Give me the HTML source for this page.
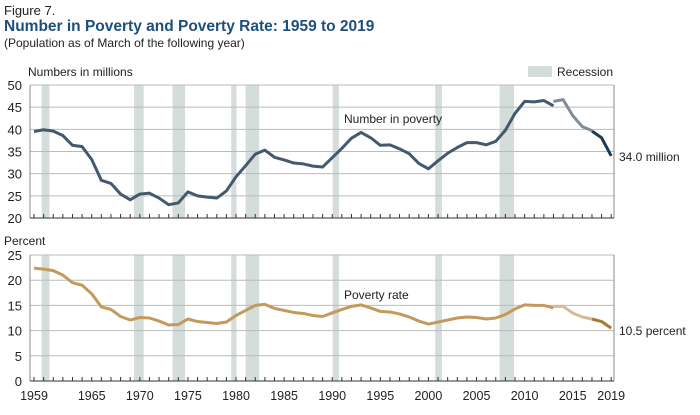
<!DOCTYPE html>
<html><head><style>
body{margin:0;background:#fff;width:700px;height:410px;overflow:hidden;font-family:"Liberation Sans",sans-serif;}
</style></head><body>
<svg id="s" width="700" height="410" xmlns="http://www.w3.org/2000/svg" font-family="Liberation Sans, sans-serif">
<g id="g"></g>
<text x="4" y="15" font-size="13" fill="#222">Figure 7.</text>
<text x="4" y="31" font-size="15.5" font-weight="bold" fill="#1d4f7c">Number in Poverty and Poverty Rate: 1959 to 2019</text>
<text x="4" y="47" font-size="12" fill="#222">(Population as of March of the following year)</text>
<text x="28" y="76" font-size="12" fill="#222">Numbers in millions</text>
<rect x="528" y="66" width="24" height="11" fill="#d4dcdc"/>
<text x="557" y="76" font-size="12" fill="#222">Recession</text>
<text x="4" y="245" font-size="12" fill="#222">Percent</text>
<text x="344" y="123" font-size="12" fill="#222">Number in poverty</text>
<text x="619" y="161" font-size="12" fill="#222">34.0 million</text>
<text x="344" y="299" font-size="12" fill="#222">Poverty rate</text>
<text x="619" y="335" font-size="12" fill="#222">10.5 percent</text>
</svg>
<script>
var NS="http://www.w3.org/2000/svg",g=document.getElementById("g");
function el(t,a,p){var e=document.createElementNS(NS,t);for(var k in a)e.setAttribute(k,a[k]);(p||g).appendChild(e);return e;}
function X(y){return 34+(y-1959)*9.62;}
var rec=[[1959.8,1960.6],[1969.4,1970.4],[1973.4,1974.7],[1979.5,1980.05],[1981.0,1982.4],[1990.05,1990.7],[2000.7,2001.4],[2007.4,2008.9]];
function panel(top,bot,min,max,step){
 var sc=(bot-top)/(max-min);
 rec.forEach(function(r){el("rect",{x:X(r[0]),y:top,width:X(r[1])-X(r[0]),height:bot-top,fill:"#d4dcdc"});});
 for(var v=min;v<=max;v+=step){var y=bot-(v-min)*sc;
  if(v>min)el("line",{x1:30,x2:614,y1:y,y2:y,stroke:"#bbb","stroke-width":1});
  var t=el("text",{x:22,y:y+5,"font-size":13,"text-anchor":"end",fill:"#222"});t.textContent=v;}
 el("line",{x1:30,x2:30,y1:top,y2:bot,stroke:"#888"});
 el("line",{x1:614,x2:614,y1:top,y2:bot,stroke:"#888"});
 el("line",{x1:30,x2:614,y1:bot,y2:bot,stroke:"#333"});
 for(var yr=1959;yr<=2019;yr++)el("line",{x1:X(yr),x2:X(yr),y1:bot,y2:bot-4,stroke:"#333"});
 return function(v){return bot-(v-min)*sc;};
}
function line(Y,pts,col){el("polyline",{points:pts.map(function(p){return X(p[0])+","+Y(p[1]);}).join(" "),fill:"none",stroke:col,"stroke-width":3,"stroke-linejoin":"round"});}
function seq(start,arr){return arr.map(function(v,i){return [start+i,v];});}
var Y1=panel(85,218,20,50,5);
line(Y1,seq(1959,[39.5,39.9,39.6,38.6,36.4,36.1,33.2,28.5,27.8,25.4,24.1,25.4,25.6,24.5,23.0,23.4,25.9,25.0,24.7,24.5,26.1,29.3,31.8,34.4,35.3,33.7,33.1,32.4,32.2,31.7,31.5,33.6,35.7,38.0,39.3,38.1,36.4,36.5,35.6,34.5,32.3,31.1,32.9,34.6,35.9,37.0,37.0,36.5,37.3,39.8,43.6,46.3,46.2,46.5,45.3]),"#44596e");
line(Y1,seq(2013,[46.3,46.7,43.1,40.6,39.7]),"#7f8c9a");
line(Y1,seq(2017,[39.6,38.1,34.0]),"#1e3a52");
var Y2=panel(255,381,0,25,5);
line(Y2,seq(1959,[22.4,22.2,21.9,21.0,19.5,19.0,17.3,14.7,14.2,12.8,12.1,12.6,12.5,11.9,11.1,11.2,12.3,11.8,11.6,11.4,11.7,13.0,14.0,15.0,15.2,14.4,14.0,13.6,13.4,13.0,12.8,13.5,14.2,14.8,15.1,14.5,13.8,13.7,13.3,12.7,11.9,11.3,11.7,12.1,12.5,12.7,12.6,12.3,12.5,13.2,14.3,15.1,15.0,15.0,14.5]),"#c39a5c");
line(Y2,seq(2013,[14.8,14.8,13.5,12.7,12.3]),"#d8bc90");
line(Y2,seq(2017,[12.3,11.8,10.5]),"#a77a33");
[1959,1965,1970,1975,1980,1985,1990,1995,2000,2005,2010,2015,2019].forEach(function(y){var t=el("text",{x:X(y),y:400,"font-size":12.5,"text-anchor":"middle",fill:"#222"});t.textContent=y;});
</script>
</body></html>
